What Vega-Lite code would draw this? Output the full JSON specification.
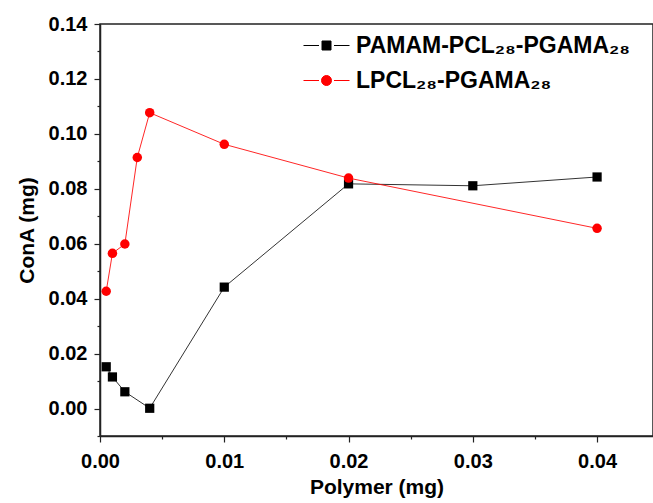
{
  "$schema": "https://vega.github.io/schema/vega-lite/v6.json",
  "width": 553,
  "height": 412,
  "autosize": "none",
  "padding": {"left": 100, "top": 24, "right": 0, "bottom": 67},
  "background": "white",
  "config": {
    "font": "Liberation Sans",
    "view": {"stroke": "#222222", "strokeWidth": 1.5},
    "axis": {"grid": false, "domainColor": "#222222", "domainWidth": 1.5, "tickColor": "#222222", "tickWidth": 1.2,
             "labelFont": "Liberation Sans", "labelFontWeight": "bold", "labelFontSize": 20, "labelColor": "#000000",
             "titleFont": "Liberation Sans", "titleFontWeight": "bold", "titleFontSize": 21, "titleColor": "#000000"},
    "legend": {"title": null, "orient": "none", "padding": 0, "symbolSize": 400, "labelOffset": 18,
               "labelFont": "Liberation Sans", "labelFontWeight": "bold", "labelFontSize": 23, "labelColor": "#000000",
               "labelLimit": 0, "symbolStrokeWidth": 1, "symbolOpacity": 1}
  },
  "data": {"values": [
    {"polymer": 0.0005, "conA": 0.0152, "series": "PAMAM-PCL₂₈-PGAMA₂₈"},
    {"polymer": 0.001, "conA": 0.0115, "series": "PAMAM-PCL₂₈-PGAMA₂₈"},
    {"polymer": 0.002, "conA": 0.0061, "series": "PAMAM-PCL₂₈-PGAMA₂₈"},
    {"polymer": 0.004, "conA": 0.0001, "series": "PAMAM-PCL₂₈-PGAMA₂₈"},
    {"polymer": 0.01, "conA": 0.0442, "series": "PAMAM-PCL₂₈-PGAMA₂₈"},
    {"polymer": 0.02, "conA": 0.0818, "series": "PAMAM-PCL₂₈-PGAMA₂₈"},
    {"polymer": 0.03, "conA": 0.0811, "series": "PAMAM-PCL₂₈-PGAMA₂₈"},
    {"polymer": 0.04, "conA": 0.0843, "series": "PAMAM-PCL₂₈-PGAMA₂₈"},
    {"polymer": 0.0005, "conA": 0.0427, "series": "LPCL₂₈-PGAMA₂₈"},
    {"polymer": 0.001, "conA": 0.0565, "series": "LPCL₂₈-PGAMA₂₈"},
    {"polymer": 0.002, "conA": 0.0599, "series": "LPCL₂₈-PGAMA₂₈"},
    {"polymer": 0.003, "conA": 0.0914, "series": "LPCL₂₈-PGAMA₂₈"},
    {"polymer": 0.004, "conA": 0.1077, "series": "LPCL₂₈-PGAMA₂₈"},
    {"polymer": 0.01, "conA": 0.0962, "series": "LPCL₂₈-PGAMA₂₈"},
    {"polymer": 0.02, "conA": 0.0839, "series": "LPCL₂₈-PGAMA₂₈"},
    {"polymer": 0.04, "conA": 0.0656, "series": "LPCL₂₈-PGAMA₂₈"}
  ]},
  "encoding": {
    "x": {"field": "polymer", "type": "quantitative", "title": "Polymer (mg)",
          "scale": {"domain": [0, 0.0445], "nice": false, "zero": false},
          "axis": {"values": [0, 0.005, 0.01, 0.015, 0.02, 0.025, 0.03, 0.035, 0.04],
                   "labelExpr": "round(datum.value*200) % 2 == 0 ? format(datum.value, '.2f') : ''",
                   "tickSize": {"expr": "round(datum.value*200) % 2 == 0 ? 6 : 3"},
                   "labelFlush": false, "labelOverlap": false, "labelPadding": 9, "titlePadding": 5}},
    "y": {"field": "conA", "type": "quantitative", "title": "ConA (mg)",
          "scale": {"domain": [-0.01, 0.14], "nice": false, "zero": false},
          "axis": {"values": [-0.01, 0, 0.01, 0.02, 0.03, 0.04, 0.05, 0.06, 0.07, 0.08, 0.09, 0.1, 0.11, 0.12, 0.13, 0.14],
                   "labelExpr": "round(datum.value*100) % 2 == 0 ? format(datum.value, '.2f') : ''",
                   "tickSize": {"expr": "round(datum.value*100) % 2 == 0 ? 6 : 3"},
                   "labelFlush": false, "labelOverlap": false, "labelPadding": 7, "titlePadding": 11}}
  },
  "layer": [
    {
      "transform": [{"filter": {"field": "series", "equal": "PAMAM-PCL₂₈-PGAMA₂₈"}}],
      "encoding": {
        "color": {"field": "series", "type": "nominal",
                  "scale": {"domain": ["PAMAM-PCL₂₈-PGAMA₂₈"], "range": ["#000000"]},
                  "legend": {"legendX": 215, "legendY": 10,
                             "symbolType": "M-2.3,0H-0.75M0.75,0H2.3M-0.45,-0.45H0.45V0.45H-0.45Z",
                             "symbolFillColor": "#000000", "symbolStrokeColor": "#000000",
                             "encode": {"symbols": {"update": {"stroke": {"value": "#000000"}, "fill": {"value": "#000000"}, "strokeWidth": {"value": 1}}}}}}
      },
      "layer": [
        {"mark": {"type": "line", "strokeWidth": 1, "opacity": 0.8}},
        {"mark": {"type": "point", "shape": "square", "filled": true, "opacity": 1, "size": 85}}
      ]
    },
    {
      "transform": [{"filter": {"field": "series", "equal": "LPCL₂₈-PGAMA₂₈"}}],
      "encoding": {
        "color": {"field": "series", "type": "nominal",
                  "scale": {"domain": ["LPCL₂₈-PGAMA₂₈"], "range": ["#ff0000"]},
                  "legend": {"legendX": 215, "legendY": 45,
                             "symbolType": "M-2.3,0H-0.75M0.75,0H2.3M0.5,0A0.5,0.5,0,1,1,-0.5,0A0.5,0.5,0,1,1,0.5,0Z",
                             "symbolFillColor": "#ff0000", "symbolStrokeColor": "#ff0000",
                             "encode": {"symbols": {"update": {"stroke": {"value": "#ff0000"}, "fill": {"value": "#ff0000"}, "strokeWidth": {"value": 1}}}}}}
      },
      "layer": [
        {"mark": {"type": "line", "strokeWidth": 1, "opacity": 0.85}},
        {"mark": {"type": "point", "shape": "circle", "filled": true, "opacity": 1, "size": 90}}
      ]
    }
  ],
  "resolve": {"scale": {"color": "independent"}, "legend": {"color": "independent"}}
}
